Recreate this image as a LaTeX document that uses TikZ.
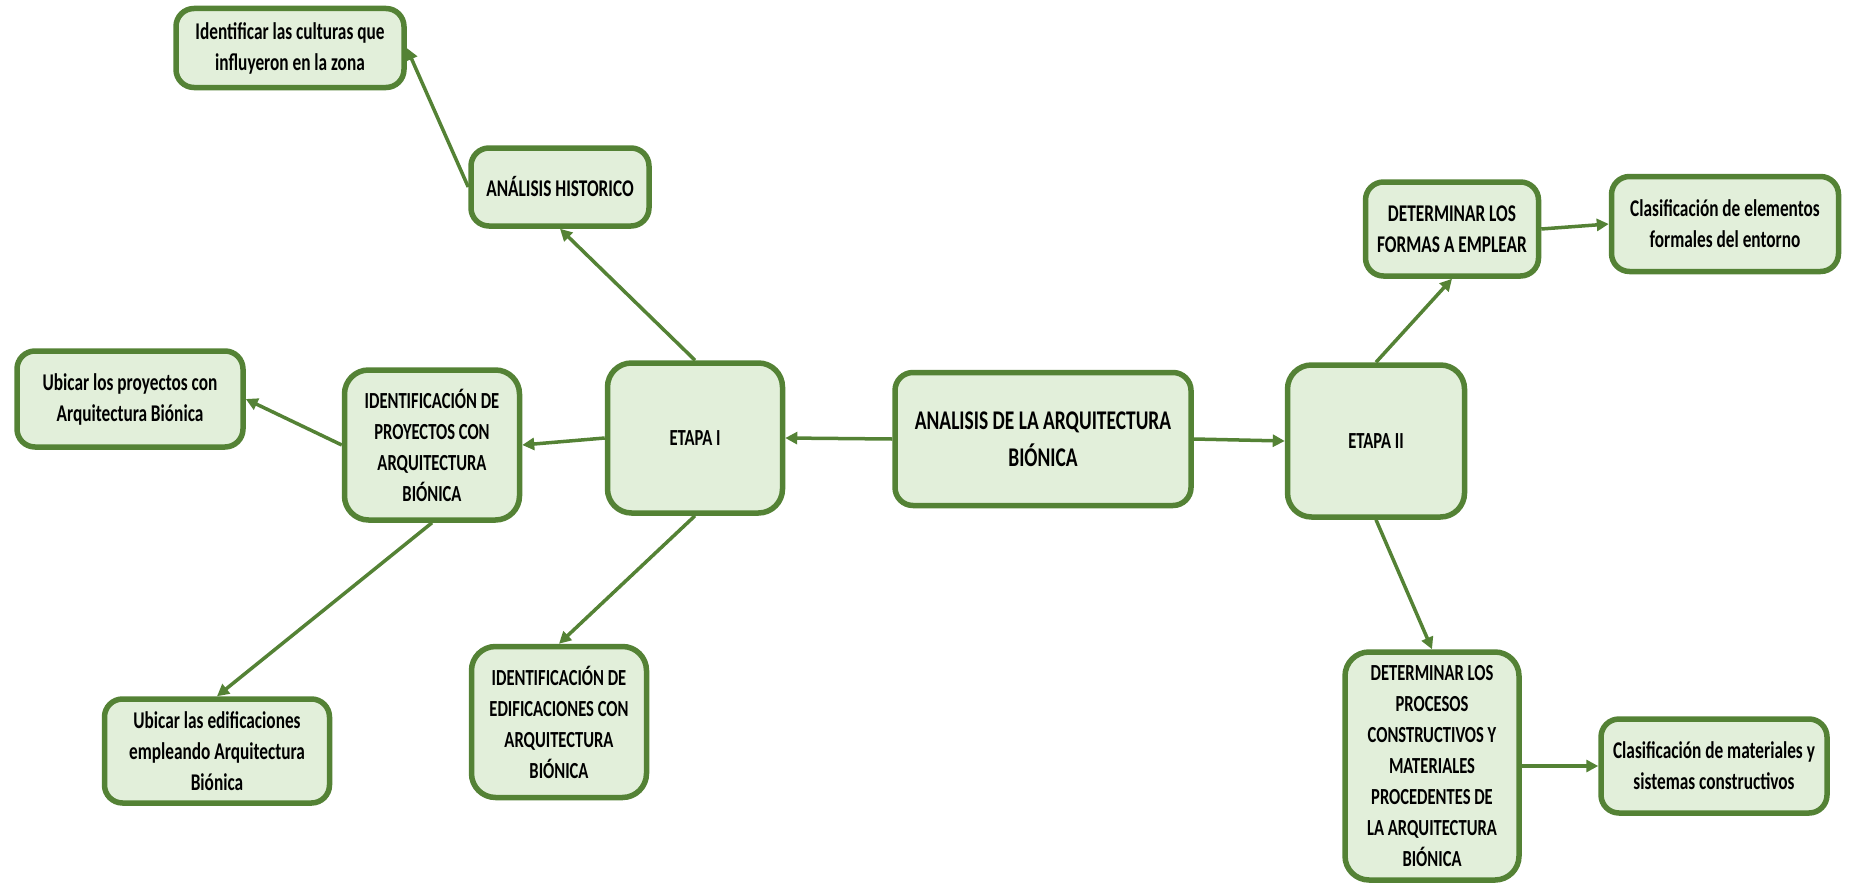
\documentclass[tikz,border=0pt]{standalone}
\usepackage{fontspec}
\setmainfont{Carlito}[FakeStretch=0.72]
\usetikzlibrary{arrows.meta}
\definecolor{bfill}{RGB}{226,239,218}
\definecolor{bdraw}{RGB}{84,130,53}
\begin{document}
\begin{tikzpicture}[x=1pt,y=-1pt,
  box/.style={draw=bdraw,fill=bfill,line width=5.5pt,rounded corners=18pt,align=center,
    font=\fontsize{24}{31}\selectfont\bfseries,inner sep=0pt},
  big/.style={box,font=\fontsize{27}{37}\selectfont\bfseries},
  etapa/.style={box,font=\fontsize{23}{31}\selectfont\bfseries,rounded corners=24pt},
  conn/.style={draw=bdraw,line width=3.5pt,-{Triangle[length=12pt,width=12pt]}}]
\useasboundingbox (0,0) rectangle (1854,883);

\node[box,minimum width=228pt,minimum height=79pt] (cult) at (290,48)
  {Identificar las culturas que\\influyeron en la zona};
\node[box,minimum width=178pt,minimum height=78pt] (hist) at (560,187)
  {ANÁLISIS HISTORICO};
\node[box,minimum width=226pt,minimum height=96pt] (ubproy) at (130,399)
  {Ubicar los proyectos con\\Arquitectura Biónica};
\node[etapa,minimum width=175pt,minimum height=150pt] (proy) at (432,445)
  {IDENTIFICACIÓN DE\\PROYECTOS CON\\ARQUITECTURA\\BIÓNICA};
\node[etapa,minimum width=175pt,minimum height=150pt] (et1) at (695,438)
  {ETAPA I};
\node[big,minimum width=296pt,minimum height=133pt] (main) at (1043,439)
  {ANALISIS DE LA ARQUITECTURA\\BIÓNICA};
\node[etapa,minimum width=177pt,minimum height=152pt] (et2) at (1376,441)
  {ETAPA II};
\node[box,minimum width=173pt,minimum height=94pt] (formas) at (1452,229)
  {DETERMINAR LOS\\FORMAS A EMPLEAR};
\node[box,minimum width=227pt,minimum height=95pt] (clelem) at (1725,224)
  {Clasificación de elementos\\formales del entorno};
\node[box,minimum width=225pt,minimum height=104pt] (ubedif) at (217,751)
  {Ubicar las edificaciones\\empleando Arquitectura\\Biónica};
\node[etapa,minimum width=175pt,minimum height=151pt] (edif) at (559,722)
  {IDENTIFICACIÓN DE\\EDIFICACIONES CON\\ARQUITECTURA\\BIÓNICA};
\node[etapa,minimum width=174pt,minimum height=228pt] (proc) at (1432,766)
  {DETERMINAR LOS\\PROCESOS\\CONSTRUCTIVOS Y\\MATERIALES\\PROCEDENTES DE\\LA ARQUITECTURA\\BIÓNICA};
\node[box,minimum width=226pt,minimum height=94pt] (clmat) at (1714,766)
  {Clasificación de materiales y\\sistemas constructivos};

\draw[conn] (main.west) -- (et1.east);
\draw[conn] (main.east) -- (et2.west);
\draw[conn] (et1.west) -- (proy.east);
\draw[conn] (et1.north) -- (hist.south);
\draw[conn] (et1.south) -- (edif.north);
\draw[conn] (hist.west) -- (cult.east);
\draw[conn] (proy.west) -- (ubproy.east);
\draw[conn] (proy.south) -- (ubedif.north);
\draw[conn] (et2.north) -- (formas.south);
\draw[conn] (formas.east) -- (clelem.west);
\draw[conn] (et2.south) -- (proc.north);
\draw[conn] (proc.east) -- (clmat.west);
\end{tikzpicture}
\end{document}
